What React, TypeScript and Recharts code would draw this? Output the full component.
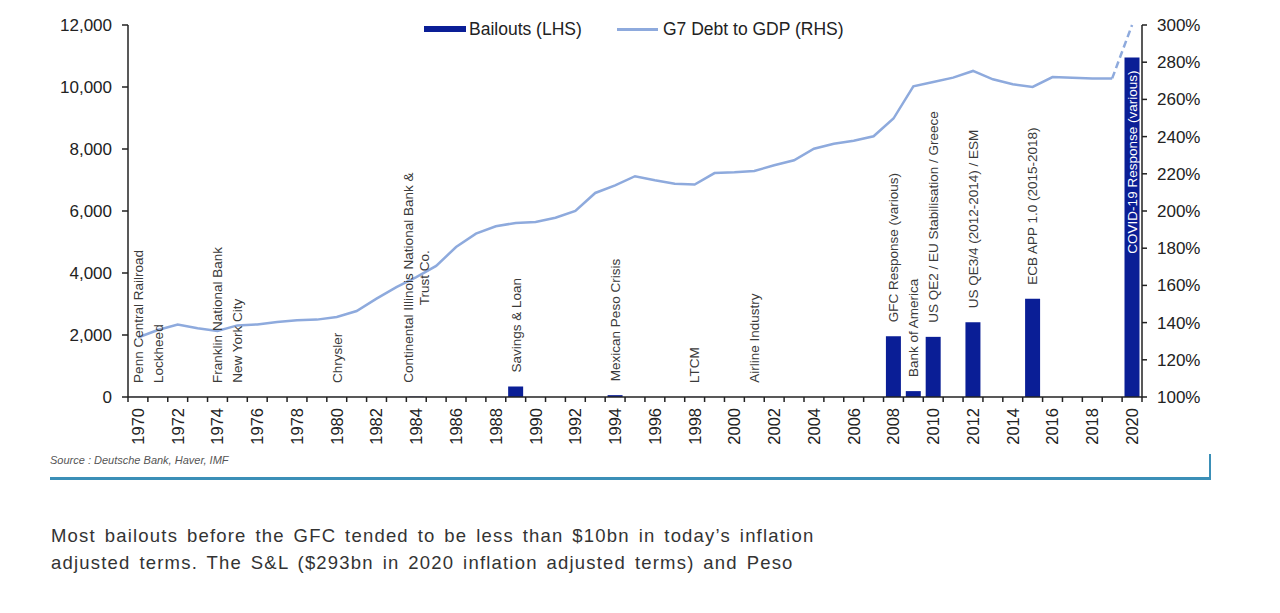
import React from 'react';
import {
  ComposedChart,
  Bar,
  Line,
  XAxis,
  YAxis,
  LabelList,
} from 'recharts';

// years on the category axis
const years = [
  1970, 1971, 1972, 1973, 1974, 1975, 1976, 1977, 1978, 1979,
  1980, 1981, 1982, 1983, 1984, 1985, 1986, 1987, 1988, 1989,
  1990, 1991, 1992, 1993, 1994, 1995, 1996, 1997, 1998, 1999,
  2000, 2001, 2002, 2003, 2004, 2005, 2006, 2007, 2008, 2009,
  2010, 2011, 2012, 2013, 2014, 2015, 2016, 2017, 2018, 2019,
  2020,
];

// bailout sizes (LHS), only the named events carry a value
const bailoutYears = [1970, 1971, 1974, 1975, 1980, 1984, 1989, 1994, 1998, 2001, 2008, 2009, 2010, 2012, 2015, 2020];
const bailoutValues = [4, 3, 4, 6, 3, 10, 340, 60, 4, 5, 1960, 190, 1940, 2410, 3170, 10950];
const bailoutNames = [
  'Penn Central Railroad',
  'Lockheed',
  'Franklin National Bank',
  'New York City',
  'Chrysler',
  'Continental Illinois National Bank &\nTrust Co.',
  'Savings & Loan',
  'Mexican Peso Crisis',
  'LTCM',
  'Airline Industry',
  'GFC Response (various)',
  'Bank of America',
  'US QE2 / EU Stabilisation / Greece',
  'US QE3/4 (2012-2014) / ESM',
  'ECB APP 1.0 (2015-2018)',
  'COVID-19 Response (various)',
];

// G7 debt to GDP (RHS), 1970-2019, then the 2020 estimate
const debtToGdp = [
  132, 136, 139, 137, 135.5, 138.5, 139, 140.3, 141.2, 141.6,
  143, 146.2, 152.9, 159.1, 164.5, 170.5, 180.6, 187.8, 191.8, 193.6,
  194.1, 196.4, 200, 209.7, 213.8, 218.7, 216.5, 214.7, 214.2, 220.4,
  220.8, 221.5, 224.6, 227.3, 233.5, 236.2, 237.8, 240.2, 249.7, 267,
  269.4, 271.7, 275.3, 270.8, 268.1, 266.7, 272, 271.7, 271.3, 271.3,
];
const debtEstimate2020 = 300;

const leftTicks = [0, 2000, 4000, 6000, 8000, 10000, 12000];
const rightTicks = [100, 120, 140, 160, 180, 200, 220, 240, 260, 280, 300];

const data = years.map((year, i) => {
  const k = bailoutYears.indexOf(year);
  const last = debtToGdp.length - 1;
  return {
    year: String(year),
    bailout: k >= 0 ? bailoutValues[k] : 0,
    label: k >= 0 ? bailoutNames[k] : '',
    debt: i <= last ? debtToGdp[i] : null,
    debtEst: i === last ? debtToGdp[last] : i === last + 1 ? debtEstimate2020 : null,
  };
});

const BAR = '#0a1e96';
const LINE = '#8eaadd';
const FONT = '"Liberation Sans", Arial, sans-serif';

const CHART_W = 1280;
const CHART_H = 457;
const LEFT_W = 128;
const RIGHT_W = 100;
const MARGIN = { top: 25, right: 38, left: 0, bottom: 0 };
const BAND = (CHART_W - MARGIN.left - MARGIN.right - LEFT_W - RIGHT_W) / years.length;

let ctx: CanvasRenderingContext2D | null = null;
const textWidth = (s: string, size: number) => {
  if (!ctx) ctx = document.createElement('canvas').getContext('2d');
  if (!ctx) return s.length * size * 0.5;
  ctx.font = `${size}px ${FONT}`;
  return ctx.measureText(s).width;
};

const YearTick = (props: any) => {
  const { x, y, payload, index } = props;
  const yr = Number(payload.value);
  return (
    <g>
      <line x1={x - BAND / 2} x2={x - BAND / 2} y1={y} y2={y + 5} stroke="#222" strokeWidth={1.5} />
      {index === years.length - 1 && (
        <line x1={x + BAND / 2} x2={x + BAND / 2} y1={y} y2={y + 5} stroke="#222" strokeWidth={1.5} />
      )}
      {yr % 2 === 0 && (
        <text
          x={x}
          y={y + 11}
          dy="0.36em"
          textAnchor="end"
          transform={`rotate(-90, ${x}, ${y + 11})`}
          fontSize={16.5}
          fontFamily={FONT}
          fill="#222"
        >
          {payload.value}
        </text>
      )}
    </g>
  );
};

const EventLabel = (props: any) => {
  const { x, y, width, height, value } = props;
  if (!value) return null;
  const size = 13.5;
  const cx = x + width / 2;
  const lines = String(value).split('\n');
  const len = textWidth(lines[0], size);
  // the long label fits inside the tall bar, others sit on top
  if (lines.length === 1 && height > len + 30) {
    const ty = y + 13;
    return (
      <text x={cx} y={ty} dy="0.36em" textAnchor="end" transform={`rotate(-90, ${cx}, ${ty})`}
        fontSize={size} fontFamily={FONT} fill="#fff">
        {value}
      </text>
    );
  }
  const base = y - 14;
  if (lines.length === 1) {
    return (
      <text x={cx} y={base} dy="0.36em" textAnchor="start" transform={`rotate(-90, ${cx}, ${base})`}
        fontSize={size} fontFamily={FONT} fill="#3a3a3a">
        {value}
      </text>
    );
  }
  const mid = base - len / 2;
  return (
    <g>
      {lines.map((ln, i) => {
        const lx = cx + (i - (lines.length - 1) / 2) * 16;
        return (
          <text key={i} x={lx} y={mid} dy="0.36em" textAnchor="middle" transform={`rotate(-90, ${lx}, ${mid})`}
            fontSize={size} fontFamily={FONT} fill="#3a3a3a">
            {ln}
          </text>
        );
      })}
    </g>
  );
};

const legendText: React.CSSProperties = {
  position: 'absolute',
  top: 19,
  fontSize: 17.5,
  lineHeight: '20px',
  color: '#222',
  fontFamily: FONT,
  whiteSpace: 'nowrap',
};

export default function App() {
  return (
    <div style={{ position: 'absolute', left: 0, top: 0, width: 1280, height: 613, background: '#fff', overflow: 'hidden' }}>
      <ComposedChart width={CHART_W} height={CHART_H} data={data} margin={MARGIN} barCategoryGap="12%">
        <XAxis
          dataKey="year"
          xAxisId={0}
          interval={0}
          height={60}
          tickLine={false}
          tickSize={0}
          tickMargin={0}
          axisLine={{ stroke: '#222', strokeWidth: 1.5 }}
          tick={<YearTick />}
        />
        <YAxis
          yAxisId="left"
          width={LEFT_W}
          domain={[0, 12000]}
          ticks={leftTicks}
          interval={0}
          tickSize={6}
          tickMargin={10}
          axisLine={{ stroke: '#222', strokeWidth: 1.5 }}
          tickLine={{ stroke: '#222', strokeWidth: 1.5 }}
          tick={{ fill: '#222', fontSize: 17, fontFamily: FONT }}
          tickFormatter={(v: number) => v.toLocaleString('en-US')}
        />
        <YAxis
          yAxisId="right"
          orientation="right"
          width={RIGHT_W}
          domain={[100, 300]}
          ticks={rightTicks}
          interval={0}
          tickSize={5}
          tickMargin={10}
          axisLine={{ stroke: '#222', strokeWidth: 1.5 }}
          tickLine={{ stroke: '#222', strokeWidth: 1.5 }}
          tick={{ fill: '#222', fontSize: 17, fontFamily: FONT, textAnchor: 'start' }}
          tickFormatter={(v: number) => `${v}%`}
        />
        <Bar yAxisId="left" dataKey="bailout" fill={BAR} isAnimationActive={false}>
          <LabelList dataKey="label" content={<EventLabel />} />
        </Bar>
        <Line yAxisId="right" type="linear" dataKey="debt" stroke={LINE} strokeWidth={2.5} dot={false} isAnimationActive={false} />
        <Line yAxisId="right" type="linear" dataKey="debtEst" stroke={LINE} strokeWidth={2.5} strokeDasharray="7 4" dot={false} isAnimationActive={false} />
      </ComposedChart>

      {/* legend */}
      <div style={{ position: 'absolute', left: 424, top: 26, width: 42, height: 6, background: BAR }} />
      <div style={{ ...legendText, left: 469 }}>Bailouts (LHS)</div>
      <div style={{ position: 'absolute', left: 617, top: 28, width: 41, height: 3, background: LINE }} />
      <div style={{ ...legendText, left: 663 }}>G7 Debt to GDP (RHS)</div>

      {/* source + frame */}
      <div style={{ position: 'absolute', left: 50, top: 454, fontSize: 11, fontStyle: 'italic', color: '#555', fontFamily: FONT }}>
        Source : Deutsche Bank, Haver, IMF
      </div>
      <div style={{ position: 'absolute', left: 50, top: 477, width: 1161, height: 3, background: '#3b8fb7' }} />
      <div style={{ position: 'absolute', left: 1209, top: 454, width: 2, height: 26, background: '#3b8fb7' }} />

      <div style={{ position: 'absolute', left: 51, top: 522, fontSize: 18.5, lineHeight: '27px', color: '#333', fontFamily: FONT, letterSpacing: 1.2, wordSpacing: 2.5, whiteSpace: 'nowrap' }}>
        <div>Most bailouts before the GFC tended to be less than $10bn in today’s inflation</div>
        <div>adjusted terms. The S&amp;L ($293bn in 2020 inflation adjusted terms) and Peso</div>
      </div>
    </div>
  );
}
